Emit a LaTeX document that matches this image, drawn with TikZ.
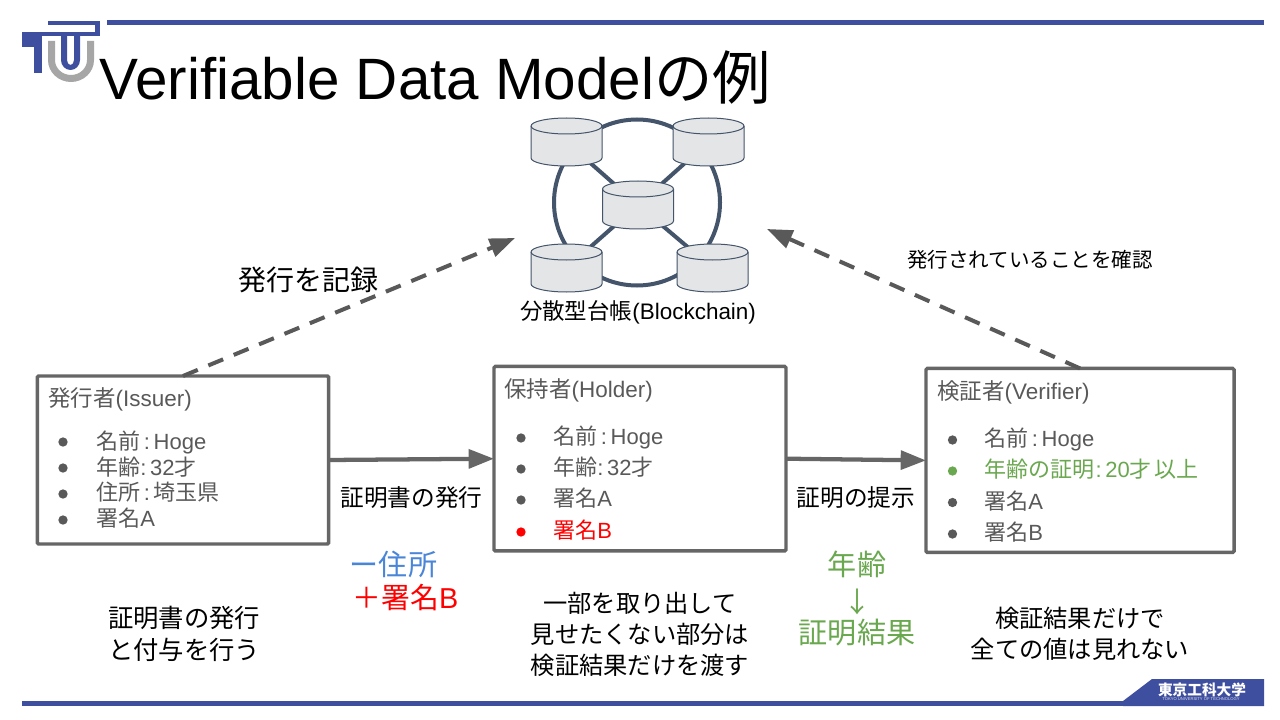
\documentclass[tikz,border=0pt]{standalone}
\usepackage{fontspec}
\setmainfont{Liberation Sans}
\newfontfamily\cjk{Noto Sans CJK JP}
\usetikzlibrary{arrows.meta,backgrounds}
\definecolor{navy}{HTML}{3F4F9F}
\definecolor{tugray}{HTML}{A6A6A6}
\definecolor{txtgray}{HTML}{595959}
\definecolor{edgegray}{HTML}{666666}
\definecolor{dashgray}{HTML}{595959}
\definecolor{slate}{HTML}{44546A}
\definecolor{cylfill}{HTML}{E3E5E6}
\definecolor{bluetxt}{HTML}{4A86D8}
\definecolor{greentxt}{HTML}{6AA84F}
\definecolor{redtxt}{HTML}{FF0000}
\newcommand{\J}[1]{{\cjk #1}}
\newcommand{\fs}[1]{\fontsize{#1}{#1}\selectfont}
\tikzset{
 x=0.75pt,y=-0.75pt,
 diskbox/.style={rectangle,inner sep=0pt,outer sep=0pt,minimum width=53.25pt,minimum height=36pt},
 diskline/.style={draw=slate,line width=0.75pt,fill=cylfill},
 spoke/.style={draw=slate,line width=3pt},
 card/.style={draw=edgegray,line width=2.6pt,inner sep=0pt,outer sep=0pt,rounded corners=1pt},
 flow/.style={draw=edgegray,line width=3.2pt,-{Triangle[length=19pt,width=14pt]}},
 dflow/.style={draw=dashgray,line width=3pt,dash pattern=on 12pt off 8.6pt,-{Triangle[length=19pt,width=14pt]}},
 itm/.style={anchor=base west,text=txtgray,inner sep=0pt,font=\fs{16.5}},
 dot/.style={circle,fill=txtgray,inner sep=0pt,minimum size=7pt},
 lbl/.style={text=black,inner sep=0pt,align=center},
}
\newcommand{\disk}[3]{%
 \node[diskbox] (#1) at (#2,#3) {};
 \path[diskline] (#1.west) ++(0,-16) arc[start angle=180,end angle=0,x radius=26.625pt,y radius=6pt] -- ++(0,32) arc[start angle=0,end angle=-180,x radius=26.625pt,y radius=6pt] -- cycle;
 \draw[draw=slate,line width=0.75pt] (#1.west) ++(0,-16) arc[start angle=180,end angle=360,x radius=26.625pt,y radius=6pt];
}
\begin{document}
\begin{tikzpicture}
\useasboundingbox (0,0) rectangle (1280,720);
% rules
\fill[navy] (107,20) rectangle (1264,25);
\fill[navy] (22,701) rectangle (1125,706);
\fill[navy] (1123,701) -- (1152,679) -- (1264,679) -- (1264,706) -- (1123,706) -- cycle;
\node[text=white,inner sep=0pt,font=\cjk\bfseries\fs{11}] (logotext) at (1202,690) {東京工科大学};
\node[text=white!80!navy,inner sep=0pt,font=\fs{3.1}] (logolatin) at (1201,699.5) {TOKYO UNIVERSITY OF TECHNOLOGY};
% logo
\fill[tugray] (48,41) -- (48,60) arc[start angle=180,end angle=0,x radius=23,y radius=22] -- (94,41) -- (87,41) -- (87,60) arc[start angle=0,end angle=180,x radius=16,y radius=15] -- (55,41) -- cycle;
\fill[navy] (48,21) rectangle (100,25);
\fill[navy] (95,21) rectangle (100,36);
\fill[navy] (22,32) rectangle (100,36);
\fill[navy] (22,32) rectangle (42,47);
\fill[navy] (34,46) rectangle (42,73);
\fill[navy] (61,36) -- (61,60) arc[start angle=180,end angle=0,x radius=9.5,y radius=10] -- (80,36) -- (74,36) -- (74,60) arc[start angle=0,end angle=180,x radius=3.5,y radius=5] -- (67,36) -- cycle;
% title
\node[anchor=base west,inner sep=0pt,font=\fs{43.76}] (title) at (99.5,100) {Verifiable Data Model\J{の例}};
% ledger
\disk{d1}{566.5}{142}
\disk{d2}{708.5}{142}
\disk{d3}{638}{205}
\disk{d4}{566.5}{268}
\disk{d5}{712.5}{268}
\begin{scope}[on background layer]
\fill[white] (0,0) rectangle (1280,720);
\node[draw=slate,line width=3pt,circle,minimum size=124.5pt,inner sep=0pt] (ring) at (637,202.5) {};
\draw[spoke] (d1.center) -- (d3.center);
\draw[spoke] (d2.center) -- (d3.center);
\draw[spoke] (d4.center) -- (d3.center);
\draw[spoke] (d5.center) -- (d3.center);
\end{scope}
\node[lbl,font=\fs{16.85}] (ledgerlbl) at (638,312) {\J{分散型台帳}(Blockchain)};
% cards
\node[card,minimum width=218.5pt,minimum height=126pt] (issuer) at (183,460) {};
\node[card,minimum width=219pt,minimum height=138.4pt] (holder) at (640,458.7) {};
\node[card,minimum width=231pt,minimum height=138pt] (verifier) at (1080,460.4) {};
% issuer text
\node[itm,font=\fs{16.85}] (i0) at (48,406) {\J{発行者}(Issuer)};
\node[dot] (ib1) at (63,442) {}; \node[itm] (i1) at (96,449) {\J{名前}\,:\,Hoge};
\node[dot] (ib2) at (63,468) {}; \node[itm] (i2) at (96,475) {\J{年齢}:\,32\J{才}};
\node[dot] (ib3) at (63,494) {}; \node[itm] (i3) at (96,500) {\J{住所}\,:\,\J{埼玉県}};
\node[dot] (ib4) at (63,520) {}; \node[itm] (i4) at (96,526) {\J{署名}A};
% holder text
\node[itm,font=\fs{16.85}] (h0) at (504,397) {\J{保持者}(Holder)};
\node[dot] (hb1) at (521,438) {}; \node[itm] (h1) at (553,444) {\J{名前}\,:\,Hoge};
\node[dot] (hb2) at (521,469) {}; \node[itm] (h2) at (553,475) {\J{年齢}:\,32\J{才}};
\node[dot] (hb3) at (521,500) {}; \node[itm] (h3) at (553,506) {\J{署名}A};
\node[dot,fill=redtxt] (hb4) at (521,532) {}; \node[itm,text=redtxt] (h4) at (553,538) {\J{署名}B};
% verifier text
\node[itm,font=\fs{16.85}] (v0) at (937,399) {\J{検証者}(Verifier)};
\node[dot] (vb1) at (952.5,440) {}; \node[itm] (v1) at (984,446) {\J{名前}\,:\,Hoge};
\node[dot,fill=greentxt] (vb2) at (952.5,471) {}; \node[itm,text=greentxt] (v2) at (984,477) {\J{年齢の証明}\hspace{1pt}:\,20\J{才}\hspace{2pt}\J{以上}};
\node[dot] (vb3) at (952.5,502.5) {}; \node[itm] (v3) at (984,509) {\J{署名}A};
\node[dot] (vb4) at (952.5,534) {}; \node[itm] (v4) at (984,540) {\J{署名}B};
% connectors
\coordinate (recvL) at (515,238);
\coordinate (recvR) at (767,229);
\draw[dflow] (issuer.north) -- (recvL);
\draw[dflow] (verifier.north) -- (recvR);
\draw[flow] (issuer.east) -- (holder.west);
\draw[flow] (holder.east) -- (verifier.west);
% labels
\node[lbl,font=\fs{21}] (l1) at (308,280) {\J{発行を記録}};
\node[lbl,font=\fs{15.4}] (l2) at (1030,260) {\J{発行されていることを確認}};
\node[lbl,font=\fs{17.75}] (l3) at (411.5,498) {\J{証明書の発行}};
\node[lbl,font=\fs{17.75}] (l4) at (856,498) {\J{証明の提示}};
\node[lbl,font=\fs{21.8},text=bluetxt] (l5) at (393.5,564) {\J{ー住所}};
\node[lbl,font=\fs{21.6},text=redtxt] (l6) at (405.5,598) {\J{＋署名}B};
\node[lbl,font=\fs{21.8},text=greentxt] (l7a) at (857,564) {\J{年齢}};
\node[lbl,font=\fs{21},text=greentxt] (l7b) at (857,602) {\J{↓}};
\node[lbl,font=\fs{21.8},text=greentxt] (l7c) at (857,633) {\J{証明結果}};
\node[lbl,font=\fs{19}] (l8) at (184,634) {\J{証明書の発行}\\[5pt]\J{と付与を行う}};
\node[lbl,font=\fs{18.2}] (l9) at (640,634) {\J{一部を取り出して}\\[5pt]\J{見せたくない部分は}\\[5pt]\J{検証結果だけを渡す}};
\node[lbl,font=\fs{18.2}] (l10) at (1080,634) {\J{検証結果だけで}\\[5pt]\J{全ての値は見れない}};
\end{tikzpicture}
\end{document}
